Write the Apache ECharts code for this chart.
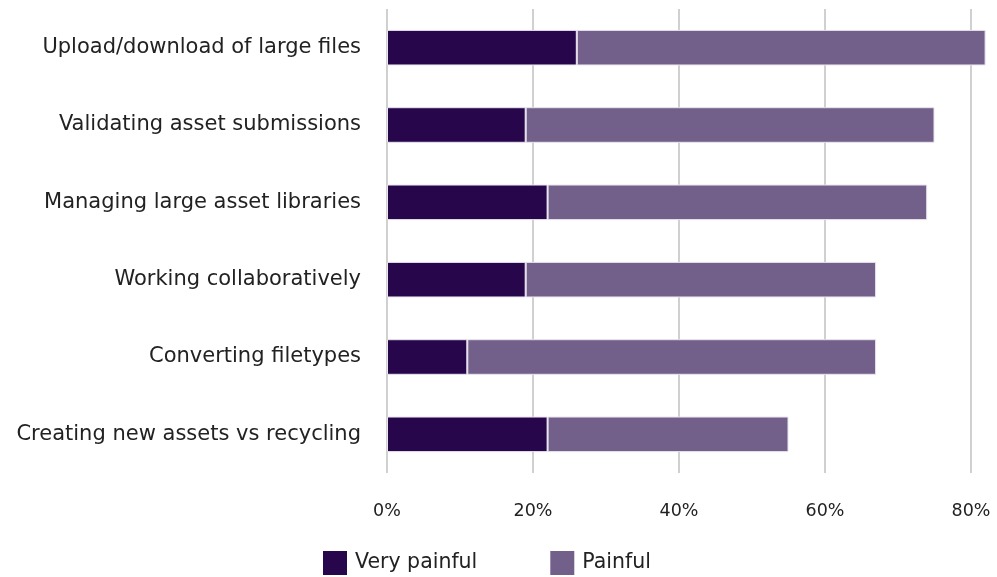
<!DOCTYPE html>
<html><head><meta charset="utf-8">
<script src="https://cdn.jsdelivr.net/npm/echarts@6/dist/echarts.min.js"></script>
<style>html,body{margin:0;padding:0;background:#fff}#c{width:997px;height:577px}</style>
</head><body><div id="c"></div>
<script>
const categories = ["Upload/download of large files","Validating asset submissions","Managing large asset libraries","Working collaboratively","Converting filetypes","Creating new assets vs recycling"];
const veryPainful = [26,19,22,19,11,22];
const painful = [56,56,52,48,56,33];
const xTicks = [0,20,40,60,80];
const FONT = "DejaVu Sans";
const chart = echarts.init(document.getElementById('c'));
chart.setOption({
  animation:false,
  textStyle:{fontFamily:FONT},
  grid:{left:387,right:26,top:9,bottom:104,containLabel:false},
  legend:{
    top:551,left:323,padding:0,itemWidth:24,itemHeight:24,itemGap:73,icon:'rect',
    itemStyle:{borderWidth:0},
    textStyle:{fontFamily:FONT,fontSize:20.5,color:'#222',padding:[0,0,0,3]},
    data:['Very painful','Painful']
  },
  xAxis:{type:'value',min:0,max:80,interval:20,
    axisLine:{show:false},axisTick:{show:false},
    axisLabel:{formatter:'{value}%',fontSize:17.5,color:'#222',margin:29,fontFamily:FONT},
    splitLine:{lineStyle:{color:'#d0d0d0',width:2}}
  },
  yAxis:{type:'category',inverse:true,data:categories,
    axisLine:{show:false},axisTick:{show:false},
    axisLabel:{fontSize:21,color:'#222',margin:26,fontFamily:FONT}
  },
  series:[
    {name:'Very painful',type:'bar',stack:'a',data:veryPainful,barWidth:'46%',clip:false,
      itemStyle:{color:'#27064b',borderColor:'#e8e4ee',borderWidth:1}},
    {name:'Painful',type:'bar',stack:'a',data:painful,barWidth:'46%',clip:false,
      itemStyle:{color:'#725f8a',borderColor:'#e8e4ee',borderWidth:1}}
  ]
});
</script></body></html>
